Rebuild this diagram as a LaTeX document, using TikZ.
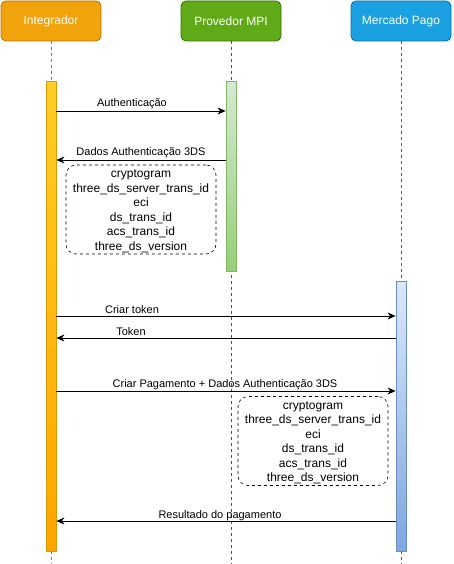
\documentclass[tikz,border=0pt]{standalone}
\usepackage{fontspec}
\setmainfont{Liberation Sans}
\usetikzlibrary{arrows.meta,positioning}
\definecolor{intfill}{HTML}{F0A30A}
\definecolor{intdraw}{HTML}{BD7000}
\definecolor{mpifill}{HTML}{60A917}
\definecolor{mpidraw}{HTML}{2D7600}
\definecolor{mpfill}{HTML}{1BA1E2}
\definecolor{mpdraw}{HTML}{006EAF}
\definecolor{intbartop}{HTML}{FFCD28}
\definecolor{intbarbot}{HTML}{FFA500}
\definecolor{intbardraw}{HTML}{D79B00}
\definecolor{mpibartop}{HTML}{D5E8D4}
\definecolor{mpibarbot}{HTML}{97D077}
\definecolor{mpibardraw}{HTML}{82B366}
\definecolor{mpbartop}{HTML}{DAE8FC}
\definecolor{mpbarbot}{HTML}{7EA6E0}
\definecolor{mpbardraw}{HTML}{6C8EBF}
\begin{document}
\begin{tikzpicture}[x=1pt,y=-1pt,
    actor/.style={draw,rounded corners=5pt,minimum width=100pt,minimum height=40pt,
        text=white,font=\fontsize{12}{14}\selectfont,line width=0.8pt},
    life/.style={dash pattern=on 3pt off 3pt,line width=0.6pt},
    bar/.style={draw,minimum width=10pt,inner sep=0pt,anchor=north,line width=0.8pt},
    msg/.style={-{Stealth[length=8pt,width=7pt,inset=2.5pt]},line width=0.8pt},
    lbl/.style={font=\fontsize{11}{13}\selectfont,inner sep=1pt},
    note/.style={draw,dashed,rounded corners=10pt,minimum width=150pt,minimum height=89pt,
        align=center,font=\fontsize{12}{14.5}\selectfont,inner sep=0pt,line width=0.6pt}]
    \useasboundingbox (0,0) rectangle (454,564);
    % participants
    \node[actor,fill=intfill,draw=intdraw] (int) at (51,21) {Integrador};
    \node[actor,fill=mpifill,draw=mpidraw] (mpi) at (231,21) {Provedor MPI};
    \node[actor,fill=mpfill,draw=mpdraw] (mp) at (401,21) {Mercado Pago};
    % lifelines
    \coordinate (intend) at (51,564);
    \coordinate (mpiend) at (231,564);
    \coordinate (mpend) at (401,564);
    \draw[life,intdraw] (int) -- (intend);
    \draw[life,mpidraw] (mpi) -- (mpiend);
    \draw[life,mpdraw] (mp) -- (mpend);
    % activation bars
    \node[bar,minimum height=470pt,draw=intbardraw,top color=intbartop,bottom color=intbarbot] (intbar) at (51,81) {};
    \node[bar,minimum height=190pt,draw=mpibardraw,top color=mpibartop,bottom color=mpibarbot] (mpibar) at (231,81) {};
    \node[bar,minimum height=270pt,draw=mpbardraw,top color=mpbartop,bottom color=mpbarbot] (mpbar) at (401,281) {};
    % messages
    \draw[msg] (intbar.east |- 0,111) -- (mpibar.west |- 0,111);
    \node[lbl] (auth) at (132,103.5) {Authenticação};
    \draw[msg] (mpibar.west |- 0,160) -- (intbar.east |- 0,160);
    \node[lbl] (dados) at (141,152.5) {Dados Authenticação 3DS};
    \node[note] (note1) at (141,209.5) {\rule{0pt}{11pt}cryptogram\\three\_ds\_server\_trans\_id\\eci\\ds\_trans\_id\\acs\_trans\_id\\three\_ds\_version};
    \draw[msg] (intbar.east |- 0,316) -- (mpbar.west |- 0,316);
    \node[lbl] (criar) at (132,309.5) {Criar token};
    \draw[msg] (mpbar.west |- 0,338) -- (intbar.east |- 0,338);
    \node[lbl] (token) at (131,331.5) {Token};
    \draw[msg] (intbar.east |- 0,391) -- (mpbar.west |- 0,391);
    \node[lbl] (pagto) at (225,384.5) {Criar Pagamento + Dados Authenticação 3DS};
    \node[note] (note2) at (313,441) {\rule{0pt}{11pt}cryptogram\\three\_ds\_server\_trans\_id\\eci\\ds\_trans\_id\\acs\_trans\_id\\three\_ds\_version};
    \draw[msg] (mpbar.west |- 0,521) -- (intbar.east |- 0,521);
    \node[lbl] (result) at (220,515.5) {Resultado do pagamento};
\end{tikzpicture}
\end{document}
